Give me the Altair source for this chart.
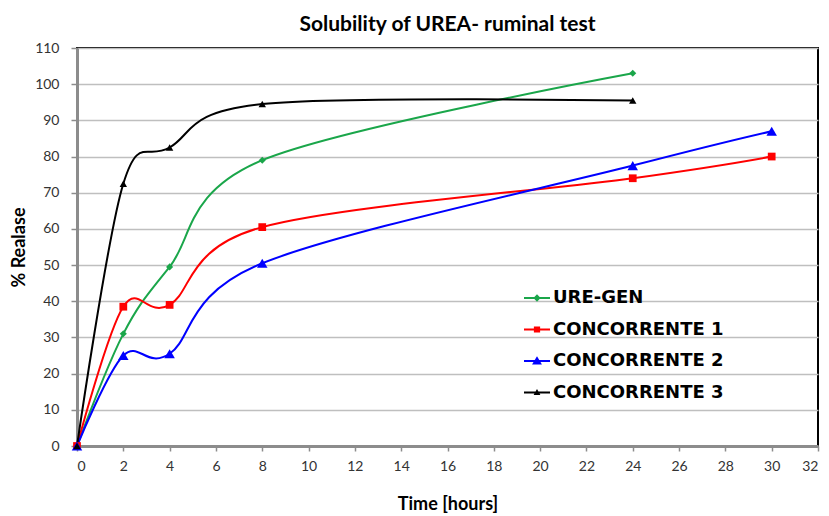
import altair as alt
import pandas as pd

series_names = ["URE-GEN", "CONCORRENTE 1", "CONCORRENTE 2", "CONCORRENTE 3"]
series_colors = ["#1aa64a", "#ff0000", "#0000ff", "#000000"]

time_ure = [0, 2, 4, 8, 24]
vals_ure = [0, 31, 49.5, 79, 103]
time_c1 = [0, 2, 4, 8, 24, 30]
vals_c1 = [0, 38.5, 39, 60.5, 74, 80]
time_c2 = [0, 2, 4, 8, 24, 30]
vals_c2 = [0, 25, 25.5, 50.5, 77.5, 87]
time_c3 = [0, 2, 4, 8, 24]
vals_c3 = [0, 72.5, 82.5, 94.5, 95.5]

x_ticks = list(range(0, 33, 2))
y_ticks = list(range(0, 111, 10))

rows = []
for name, ts, vs in zip(series_names,
                        [time_ure, time_c1, time_c2, time_c3],
                        [vals_ure, vals_c1, vals_c2, vals_c3]):
    for t, v in zip(ts, vs):
        rows.append({"series": name, "time": t, "value": v})
df = pd.DataFrame(rows)

point_shapes = ["diamond", "square", "triangle-up", "triangle-up"]
point_sizes = [50, 60, 110, 55]
legend_paths = [
    "M-1,-0.08H1V0.08H-1Z M0,-0.28L0.28,0L0,0.28L-0.28,0Z",
    "M-1,-0.08H1V0.08H-1Z M-0.24,-0.24H0.24V0.24H-0.24Z",
    "M-1,-0.08H1V0.08H-1Z M0,-0.36L0.38,0.26H-0.38Z",
    "M-1,-0.08H1V0.08H-1Z M0,-0.26L0.26,0.2H-0.26Z",
]

x_enc = alt.X("time:Q", scale=alt.Scale(domain=[0, 32], nice=False),
              axis=alt.Axis(values=x_ticks, title="Time [hours]", grid=False,
                            tickSize=5, labelPadding=8, titlePadding=22))
y_enc = alt.Y("value:Q", scale=alt.Scale(domain=[0, 110], nice=False),
              axis=alt.Axis(values=y_ticks, title="% Realase", grid=True,
                            tickSize=6, labelPadding=12, titlePadding=6))

# mark scales (no legend) use the reversed order so they are not merged with the legend scale
mark_scale_domain = series_names[::-1]
mark_scale_range = series_colors[::-1]

base = alt.Chart(df)

lines = base.mark_line(interpolate="cardinal", tension=0, strokeWidth=2).encode(
    x=x_enc, y=y_enc,
    stroke=alt.Stroke("series:N", scale=alt.Scale(domain=mark_scale_domain, range=mark_scale_range),
                      legend=None),
    order=alt.Order("time:Q"),
)

point_layers = []
for name, shp, sz in zip(series_names, point_shapes, point_sizes):
    point_layers.append(
        base.transform_filter(alt.datum.series == name)
        .mark_point(filled=True, opacity=1, shape=shp, size=sz)
        .encode(x=x_enc, y=y_enc,
                fill=alt.Fill("series:N",
                              scale=alt.Scale(domain=mark_scale_domain, range=mark_scale_range),
                              legend=None))
    )

legend_props = dict(title=None, orient="none", legendX=447, legendY=237,
                    symbolSize=676, symbolStrokeWidth=0,
                    labelFont="DejaVu Sans", labelFontWeight="bold",
                    labelFontSize=18, labelColor="#000000", labelLimit=400,
                    rowPadding=9.5, labelOffset=3, symbolOpacity=1)

legend_layer = base.transform_filter("false").mark_point(filled=True).encode(
    x=x_enc, y=y_enc,
    color=alt.Color("series:N", scale=alt.Scale(domain=series_names, range=series_colors),
                    legend=alt.Legend(**legend_props)),
    shape=alt.Shape("series:N", scale=alt.Scale(domain=series_names, range=legend_paths),
                    legend=alt.Legend(**legend_props)),
)

chart = alt.layer(lines, *point_layers, legend_layer).properties(
    width=741, height=398,
    title=alt.Title("Solubility of UREA- ruminal test", font="Lato", fontSize=21,
                    fontWeight="bold", color="#000000", anchor="middle", offset=6),
    autosize=alt.AutoSizeParams(type="none"),
    padding={"left": 69, "top": 40, "right": 3, "bottom": 70},
).configure_view(
    stroke="#000000", strokeWidth=2
).configure_axis(
    labelFont="Lato", labelFontSize=14, labelColor="#333333",
    titleFont="Lato", titleFontSize=18, titleFontWeight="bold", titleColor="#000000",
    domainColor="#8c8c8c", domainWidth=3, tickColor="#8c8c8c", tickWidth=1.5,
    gridColor="#bfbfbf", gridWidth=1.5,
)

chart.save("out.html", embed_options={"renderer": "svg", "actions": False})
